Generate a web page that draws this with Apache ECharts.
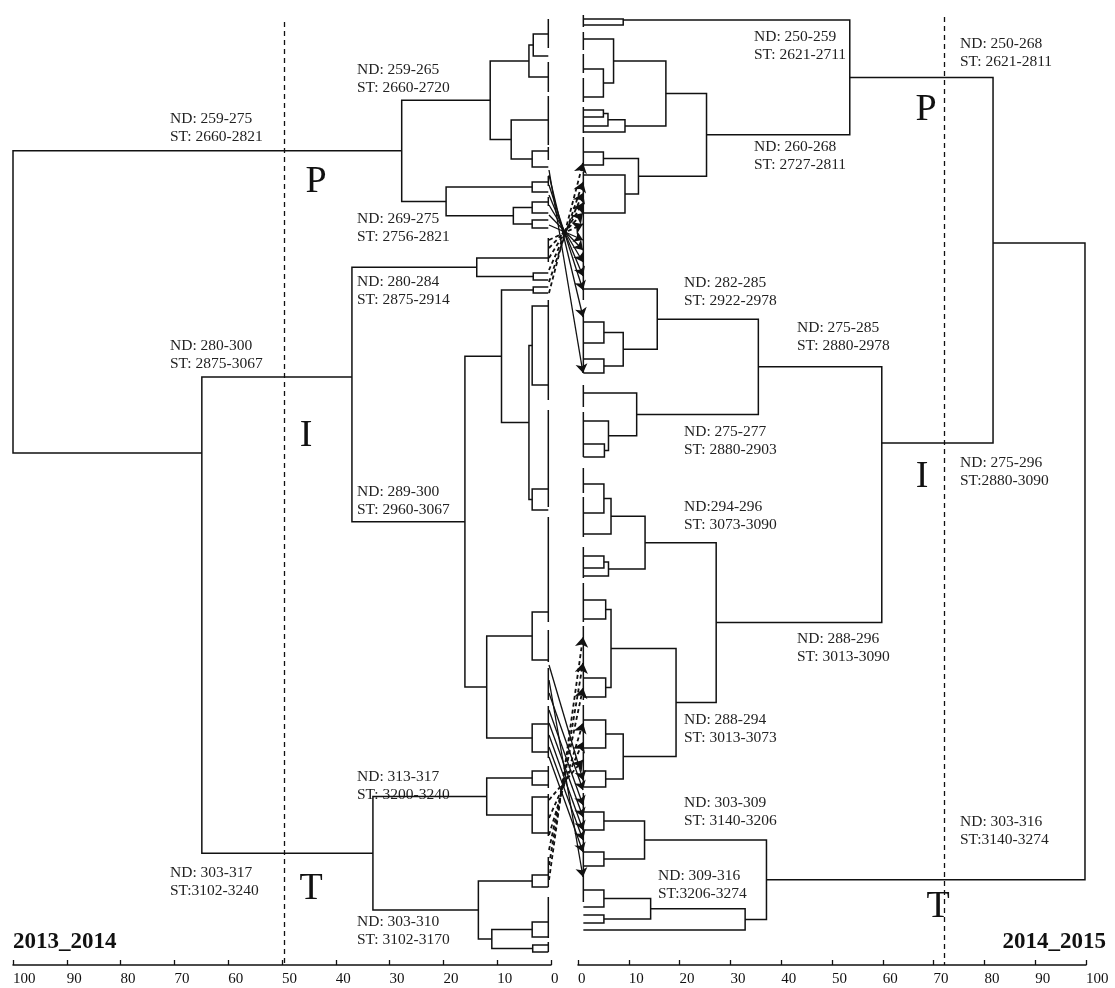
<!DOCTYPE html>
<html><head><meta charset="utf-8">
<script src="https://cdn.jsdelivr.net/npm/echarts@6/dist/echarts.min.js"></script>
<style>html,body{margin:0;padding:0;background:#fff}#c{width:1115px;height:988px}</style>
</head><body><div id="c"></div>
<script>
// ---- data (distance axis 0-100; vertical = leaf order position, top->bottom) ----
const xTickLabels = [0,10,20,30,40,50,60,70,80,90,100];

// node = [height, childA, childB, (optional attach position)] ; leaf = order position
const leftP = [27.75,
  [11.3, [4.1, [3.3, 34, 56], 77], [7.4, 120, [3.5, 151, 167]]],
  [19.5, [3.5, 182, 192], [7.0, [3.5, 202, 213], [3.5, 220, 228]]]];
const leftI = [37.0,
  [13.8, 258, [3.3, 273, 280]],
  [16.0,
    [9.2, [3.3, 287, 293], [4.1, [3.5, 306, 385], [3.5, 489, 510]]],
    [11.95, [3.5, 612, 660], [3.5, 724, 752]]],
  377];
const leftT = [33.1,
  [11.95, [3.5, 771, 785], [3.5, 797, 833]],
  [13.5, [3.5, 875, 887], [11.0, [3.5, 922, 937], [3.4, 945, 952]]]];
const leftIT = [64.9, leftI, leftT, 453];
const leftRoot = [100, leftP, leftIT];

const rightP = [53.5,
  [8.9, 19, 25, 20],
  [25.3,
    [17.3, [7.0, 39, [5.0, 69, 97]], [9.25, [5.9, [5.0, 110, 117], 126], 132]],
    [11.9, [5.0, 152, 165], [9.25, 175, 213]]]];
const rightI = [59.8,
  [35.5,
    [15.6, 289, [8.9, [5.1, 322, 343], [5.1, 359, 373]]],
    [11.55, 393, [6.0, 421, [5.2, 444, 457]]]],
  [27.2,
    [13.2, [6.5, [5.1, 484, 513], 534], [6.0, [5.1, 556, 568], 576]],
    [19.3, [6.5, [5.45, 600, 619], [5.45, 678, 697]], [8.9, [5.45, 720, 748], [5.45, 771, 787]]]],
  443];
const rightT = [37.1,
  [13.1, [5.1, 812, 830], [5.1, 852, 866]],
  [32.9, [14.3, [5.1, 890, 907], [5.1, 915, 923]], 930]];
const rightPI = [81.7, rightP, rightI, 243];
const rightRoot = [99.8, rightPI, rightT];

// zero-distance groups (identical samples) : [from, to]
const leftZeroSpans = [[19,48],[62,92],[96,145],[147,160],[176,186],[197,206],[238,262],[300,400],[410,507],[517,622],[630,662],[668,700],[706,758],[766,788],[794,836],[857,887],[897,938],[942,952]];
const rightZeroSpans = [[15,27],[32,50],[54,73],[78,102],[107,133],[137,168],[172,300],[312,373],[385,407],[412,457],[468,493],[497,537],[547,578],[583,622],[626,700],[705,748],[752,787],[793,902]];

// sample transitions 2013_2014 -> 2014_2015 : [left position, right position]
const arrowsSolidUpper = [[170,373],[175,317],[185,290],[195,276],[205,262],[215,250],[225,240]];
const arrowsDashedUpper = [[293,163],[282,182],[270,193],[258,203],[248,213],[240,224]];
const arrowsSolidLower = [[665,780],[680,877],[693,790],[710,805],[723,817],[735,830],[747,840],[757,852]];
const arrowsDashedLower = [[880,637],[865,663],[850,688],[835,723],[818,742],[800,760]];

const leftCut = 49.5, rightCut = 72;

const leftLabels = [
  ['ND: 259-275\nST: 2660-2821', 170, 119],
  ['ND: 259-265\nST: 2660-2720', 357, 70],
  ['ND: 269-275\nST: 2756-2821', 357, 219],
  ['ND: 280-284\nST: 2875-2914', 357, 282],
  ['ND: 280-300\nST: 2875-3067', 170, 346],
  ['ND: 289-300\nST: 2960-3067', 357, 492],
  ['ND: 313-317\nST: 3200-3240', 357, 777],
  ['ND: 303-317\nST:3102-3240', 170, 873],
  ['ND: 303-310\nST: 3102-3170', 357, 922]];
const rightLabels = [
  ['ND: 250-259\nST: 2621-2711', 754, 37],
  ['ND: 260-268\nST: 2727-2811', 754, 147],
  ['ND: 250-268\nST: 2621-2811', 960, 44],
  ['ND: 282-285\nST: 2922-2978', 684, 283],
  ['ND: 275-285\nST: 2880-2978', 797, 328],
  ['ND: 275-277\nST: 2880-2903', 684, 432],
  ['ND:294-296\nST: 3073-3090', 684, 507],
  ['ND: 275-296\nST:2880-3090', 960, 463],
  ['ND: 288-296\nST: 3013-3090', 797, 639],
  ['ND: 288-294\nST: 3013-3073', 684, 720],
  ['ND: 303-309\nST: 3140-3206', 684, 803],
  ['ND: 303-316\nST:3140-3274', 960, 822],
  ['ND: 309-316\nST:3206-3274', 658, 876]];
const groupLetters = [['P',316,182],['I',306,436],['T',311,889],['P',926,110],['I',922,477],['T',938,907]];
const periodNames = ['2013_2014','2014_2015'];

// ---- build ----
function build(node, leafH, segs) {
  if (typeof node === 'number') return {y: node, h: leafH};
  const a = build(node[1], leafH, segs), b = build(node[2], leafH, segs);
  const h = node[0];
  segs.push({coords: [[a.h, a.y], [h, a.y], [h, b.y], [b.h, b.y]]});
  return {y: node[3] !== undefined ? node[3] : (a.y + b.y) / 2, h: h};
}
const leftLeafH = 0.5, rightLeafH = 1.05;
const leftSegs = [], rightSegs = [];
build(leftRoot, leftLeafH, leftSegs);
build(rightRoot, rightLeafH, rightSegs);
leftZeroSpans.forEach(s => leftSegs.push({coords: [[leftLeafH, s[0]], [leftLeafH, s[1]]]}));
rightZeroSpans.forEach(s => rightSegs.push({coords: [[rightLeafH, s[0]], [rightLeafH, s[1]]]}));

const ink = '#111';
const FONT = '"Liberation Serif", "Times New Roman", serif';
const yMax = 965;
function xAxisCfg(grid, inverse) {
  return {gridIndex: grid, type: 'value', min: 0, max: 100, interval: 10, inverse: inverse,
    axisLine: {show: true, onZero: false, lineStyle: {color: ink, width: 1.5}},
    axisTick: {show: true, inside: true, length: 5, lineStyle: {color: ink, width: 1.3}},
    axisLabel: {show: true, align: 'left', margin: 7, fontFamily: FONT, fontSize: 15, color: ink,
      formatter: v => xTickLabels.indexOf(v) >= 0 ? String(v) : ''},
    splitLine: {show: false}};
}
function yAxisCfg(grid) {
  return {gridIndex: grid, type: 'value', min: 0, max: yMax, inverse: true, show: false};
}
function arrowSeries(data, dashed) {
  return {type: 'lines', coordinateSystem: 'cartesian2d', xAxisIndex: 2, yAxisIndex: 2, clip: false,
    symbol: ['none', 'arrow'], symbolSize: dashed ? 10 : 9, silent: true,
    lineStyle: {color: ink, width: dashed ? 1.8 : 1.3, type: dashed ? [4, 3] : 'solid', opacity: 1},
    data: data.map(d => ({coords: [[0, d[0]], [1, d[1]]]}))};
}
const graphics = [];
leftLabels.concat(rightLabels).forEach(l => graphics.push({type: 'text', left: l[1], top: l[2] - 9.5,
  style: {text: l[0], font: '15.5px ' + FONT, fill: '#222', lineHeight: 18.5}}));
groupLetters.forEach(g => graphics.push({type: 'text', x: g[1], y: g[2],
  style: {text: g[0], font: '38px ' + FONT, fill: ink, textAlign: 'center', textVerticalAlign: 'middle'}}));
graphics.push({type: 'text', left: 13, top: 931, style: {text: periodNames[0], font: 'bold 23px ' + FONT, fill: ink}});
graphics.push({type: 'text', right: 9, top: 931, style: {text: periodNames[1], font: 'bold 23px ' + FONT, fill: ink}});

const chart = echarts.init(document.getElementById('c'), null, {renderer: 'canvas'});
chart.setOption({
  animation: false,
  backgroundColor: '#fff',
  grid: [
    {left: 13, width: 538, top: 0, height: yMax},
    {left: 578, width: 508, top: 0, height: yMax},
    {left: 549, width: 34, top: 0, height: yMax}],
  xAxis: [xAxisCfg(0, true), xAxisCfg(1, false),
    {gridIndex: 2, type: 'value', min: 0, max: 1, show: false}],
  yAxis: [yAxisCfg(0), yAxisCfg(1), yAxisCfg(2)],
  series: [
    {type: 'lines', coordinateSystem: 'cartesian2d', xAxisIndex: 0, yAxisIndex: 0, polyline: true, clip: false,
      silent: true, lineStyle: {color: ink, width: 1.5, opacity: 1}, data: leftSegs},
    {type: 'lines', coordinateSystem: 'cartesian2d', xAxisIndex: 1, yAxisIndex: 1, polyline: true, clip: false,
      silent: true, lineStyle: {color: ink, width: 1.5, opacity: 1}, data: rightSegs},
    {type: 'lines', coordinateSystem: 'cartesian2d', xAxisIndex: 0, yAxisIndex: 0, clip: false, silent: true,
      lineStyle: {color: ink, width: 1.3, type: [5, 4], opacity: 1},
      data: [{coords: [[leftCut, 22], [leftCut, yMax]]}]},
    {type: 'lines', coordinateSystem: 'cartesian2d', xAxisIndex: 1, yAxisIndex: 1, clip: false, silent: true,
      lineStyle: {color: ink, width: 1.3, type: [5, 4], opacity: 1},
      data: [{coords: [[rightCut, 17], [rightCut, yMax]]}]},
    arrowSeries(arrowsSolidUpper, false),
    arrowSeries(arrowsDashedUpper, true),
    arrowSeries(arrowsSolidLower, false),
    arrowSeries(arrowsDashedLower, true)
  ],
  graphic: graphics
});
</script></body></html>
